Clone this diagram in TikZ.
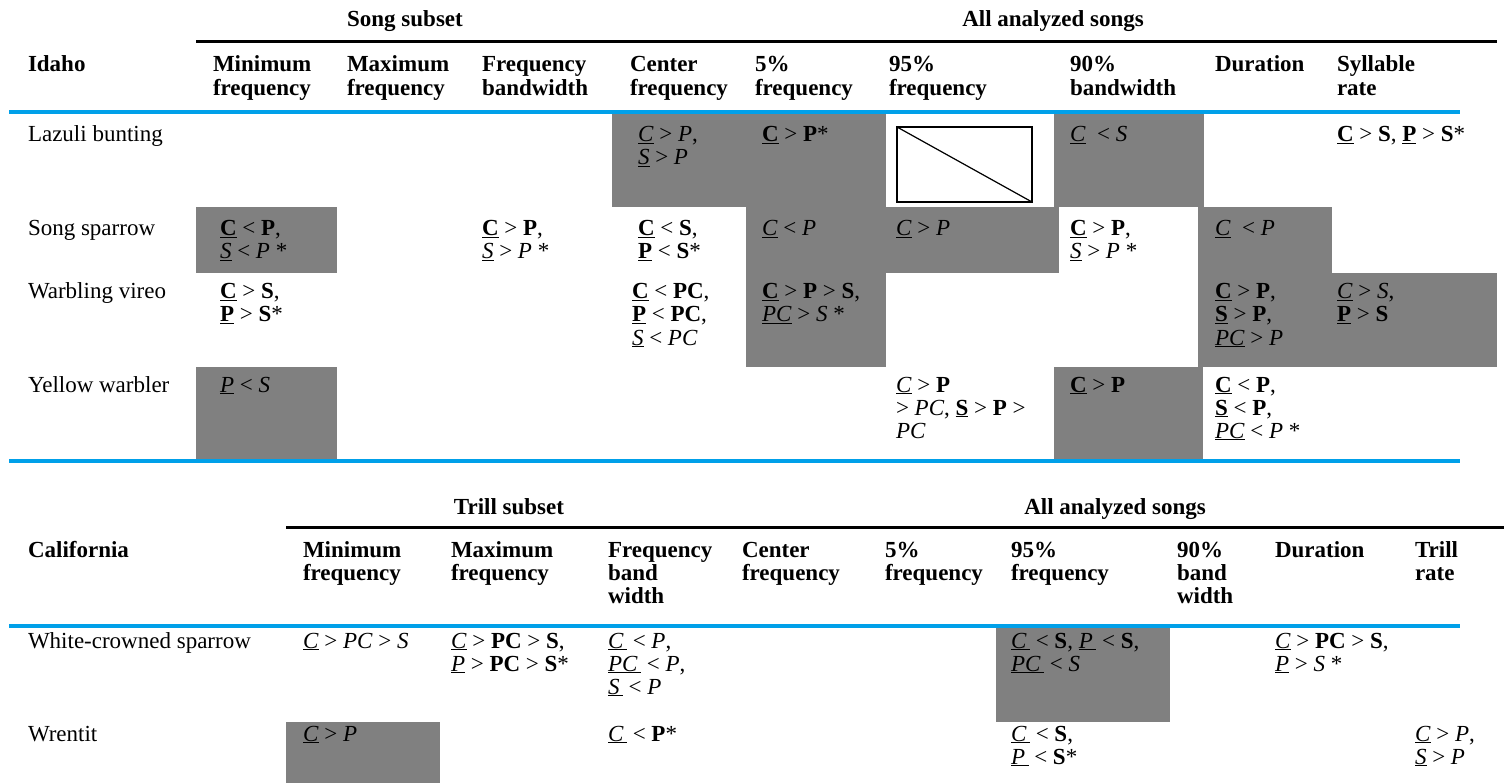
\documentclass[tikz,border=0pt]{standalone}
\usepackage{fontspec}
\setmainfont{Liberation Serif}
\definecolor{rulblue}{RGB}{0,160,233}
\definecolor{cellgray}{RGB}{128,128,128}
\newcommand\U[1]{\underline{#1}}
\newcommand\I[1]{\textit{#1}}
\newcommand\B[1]{\textbf{#1}}
\newcommand\Us{\hspace{.15em}}
\begin{document}
\begin{tikzpicture}[x=1pt,y=-1pt,
  tx/.style={anchor=base west, inner sep=0pt, outer sep=0pt, font=\fontsize{23}{23}\selectfont},
  hd/.style={tx, font=\fontsize{23}{23}\selectfont\bfseries},
  grp/.style={anchor=base, inner sep=0pt, outer sep=0pt, font=\fontsize{23}{23}\selectfont\bfseries},
  graycell/.style={fill=cellgray, draw=none},
  bluerule/.style={draw=rulblue, line width=4pt},
  blackrule/.style={draw=black, line width=3pt},
  boxline/.style={draw=black, line width=1.2pt}]
\useasboundingbox (0,0) rectangle (1504,783);

% ---------- gray cells ----------
\path[graycell] (612,114) rectangle (886,207);
\path[graycell] (1054,114) rectangle (1204,207);
\path[graycell] (196,207) rectangle (337,273);
\path[graycell] (746,207) rectangle (1059,273);
\path[graycell] (1198,207) rectangle (1332,273);
\path[graycell] (746,273) rectangle (886,367);
\path[graycell] (1198,273) rectangle (1497,367);
\path[graycell] (196,367) rectangle (337,461);
\path[graycell] (1054,367) rectangle (1203,461);
\path[graycell] (996,628) rectangle (1170,722);
\path[graycell] (286,722) rectangle (440,783);

% ---------- rules ----------
\coordinate (ta) at (196,42);  \coordinate (tb) at (613,42);  \coordinate (tc) at (1497,42);
\draw[blackrule] (ta) -- (tb); \draw[blackrule] (tb) -- (tc);
\coordinate (ba) at (286,527); \coordinate (bb) at (727,527); \coordinate (bc) at (1504,527);
\draw[blackrule] (ba) -- (bb); \draw[blackrule] (bb) -- (bc);
\coordinate (u1a) at (9,112); \coordinate (u1b) at (1460,112);
\coordinate (u2a) at (9,461); \coordinate (u2b) at (1460,461);
\coordinate (u3a) at (9,626); \coordinate (u3b) at (1460,626);
\draw[bluerule] (u1a) -- (u1b);
\draw[bluerule] (u2a) -- (u2b);
\draw[bluerule] (u3a) -- (u3b);

% ---------- box in 95% cell ----------
\coordinate (boxA) at (897,127); \coordinate (boxB) at (1032,202);
\draw[boxline] (boxA) rectangle (boxB);
\draw[boxline] (boxA) -- (boxB);

% ---------- top table headers ----------
\node[grp] (gSong) at (405,27) {Song subset};
\node[grp] (gAll) at (1053,27) {All analyzed songs};
\node[hd] (hIdaho) at (28,72) {Idaho};
\node[hd] (hMin1) at (213,72) {Minimum};   \node[hd] (hMin2) at (213,96) {frequency};
\node[hd] (hMax1) at (347,72) {Maximum};   \node[hd] (hMax2) at (347,96) {frequency};
\node[hd] (hFB1) at (482,72) {Frequency};  \node[hd] (hFB2) at (482,96) {bandwidth};
\node[hd] (hCF1) at (630,72) {Center};     \node[hd] (hCF2) at (630,96) {frequency};
\node[hd] (hF51) at (755,72) {5\%};        \node[hd] (hF52) at (755,96) {frequency};
\node[hd] (hN51) at (889,72) {95\%};       \node[hd] (hN52) at (889,96) {frequency};
\node[hd] (hN01) at (1070,72) {90\%};      \node[hd] (hN02) at (1070,96) {bandwidth};
\node[hd] (hDur) at (1215,72) {Duration};
\node[hd] (hSy1) at (1337,72) {Syllable};  \node[hd] (hSy2) at (1337,96) {rate};

% ---------- Lazuli bunting ----------
\node[tx] (lzN) at (28,142) {Lazuli bunting};
\node[tx] (lzCF1) at (638,142) {\U{\I{C}} > \I{P},};
\node[tx] (lzCF2) at (638,165) {\U{\I{S}} > \I{P}};
\node[tx] (lzF5) at (762,142) {\U{\B{C}} > \B{P}*};
\node[tx] (lzN0) at (1070,142) {\U{\I{C}}\enspace< \I{S}};
\node[tx] (lzSy) at (1337,142) {\U{\B{C}} > \B{S}, \U{\B{P}} > \B{S}*};

% ---------- Song sparrow ----------
\node[tx] (ssN) at (28,236) {Song sparrow};
\node[tx] (ssMin1) at (220,236) {\U{\B{C}} < \B{P},};
\node[tx] (ssMin2) at (220,259) {\U{\I{S}} < \I{P} *};
\node[tx] (ssFB1) at (482,236) {\U{\B{C}} > \B{P},};
\node[tx] (ssFB2) at (482,259) {\U{\I{S}} > \I{P} *};
\node[tx] (ssCF1) at (638,236) {\U{\B{C}} < \B{S},};
\node[tx] (ssCF2) at (638,259) {\U{\B{P}} < \B{S}*};
\node[tx] (ssF5) at (762,236) {\U{\I{C}} < \I{P}};
\node[tx] (ssN5) at (896,236) {\U{\I{C}} > \I{P}};
\node[tx] (ssN01) at (1070,236) {\U{\B{C}} > \B{P},};
\node[tx] (ssN02) at (1070,259) {\U{\I{S}} > \I{P} *};
\node[tx] (ssDu) at (1215,236) {\U{\I{C}}\enspace< \I{P}};

% ---------- Warbling vireo ----------
\node[tx] (wvN) at (28,299) {Warbling vireo};
\node[tx] (wvMin1) at (220,299) {\U{\B{C}} > \B{S},};
\node[tx] (wvMin2) at (220,322) {\U{\B{P}} > \B{S}*};
\node[tx] (wvCF1) at (632,299) {\U{\B{C}} < \B{PC},};
\node[tx] (wvCF2) at (632,322) {\U{\B{P}} < \B{PC},};
\node[tx] (wvCF3) at (632,345) {\U{\I{S}} < \I{PC}};
\node[tx] (wvF51) at (762,299) {\U{\B{C}} > \B{P} > \B{S},};
\node[tx] (wvF52) at (762,322) {\U{\I{PC}} > \I{S} *};
\node[tx] (wvDu1) at (1215,299) {\U{\B{C}} > \B{P},};
\node[tx] (wvDu2) at (1215,322) {\U{\B{S}} > \B{P},};
\node[tx] (wvDu3) at (1215,345) {\U{\I{PC}} > \I{P}};
\node[tx] (wvSy1) at (1337,299) {\U{\I{C}} > \I{S},};
\node[tx] (wvSy2) at (1337,322) {\U{\B{P}} > \B{S}};

% ---------- Yellow warbler ----------
\node[tx] (ywN) at (28,392) {Yellow warbler};
\node[tx] (ywMin) at (220,392) {\U{\I{P}} < \I{S}};
\node[tx] (ywN51) at (896,392) {\U{\I{C}} > \B{P}};
\node[tx] (ywN52) at (896,415) {> \I{PC}, \U{\B{S}} > \B{P} >};
\node[tx] (ywN53) at (896,438) {\I{PC}};
\node[tx] (ywN0) at (1070,392) {\U{\B{C}} > \B{P}};
\node[tx] (ywDu1) at (1215,392) {\U{\B{C}} < \B{P},};
\node[tx] (ywDu2) at (1215,415) {\U{\B{S}} < \B{P},};
\node[tx] (ywDu3) at (1215,438) {\U{\I{PC}} < \I{P} *};

% ---------- bottom table headers ----------
\node[grp] (gTrill) at (509,514) {Trill subset};
\node[grp] (gAll2) at (1115,514) {All analyzed songs};
\node[hd] (hCal) at (28,557) {California};
\node[hd] (hLMin1) at (303,557) {Minimum};  \node[hd] (hLMin2) at (303,580) {frequency};
\node[hd] (hLMax1) at (451,557) {Maximum};  \node[hd] (hLMax2) at (451,580) {frequency};
\node[hd] (hLFB1) at (608,557) {Frequency}; \node[hd] (hLFB2) at (608,580) {band}; \node[hd] (hLFB3) at (608,603) {width};
\node[hd] (hLCF1) at (742,557) {Center};    \node[hd] (hLCF2) at (742,580) {frequency};
\node[hd] (hLF51) at (885,557) {5\%};       \node[hd] (hLF52) at (885,580) {frequency};
\node[hd] (hLN51) at (1011,557) {95\%};     \node[hd] (hLN52) at (1011,580) {frequency};
\node[hd] (hLN01) at (1177,557) {90\%};     \node[hd] (hLN02) at (1177,580) {band}; \node[hd] (hLN03) at (1177,603) {width};
\node[hd] (hLDu) at (1275,557) {Duration};
\node[hd] (hLTr1) at (1415,557) {Trill};    \node[hd] (hLTr2) at (1415,580) {rate};

% ---------- White-crowned sparrow ----------
\node[tx] (wcN) at (28,648) {White-crowned sparrow};
\node[tx] (wcMin) at (303,648) {\U{\I{C}} > \I{PC} > \I{S}};
\node[tx] (wcMax1) at (451,648) {\U{\I{C}} > \B{PC} > \B{S},};
\node[tx] (wcMax2) at (451,671) {\U{\I{P}} > \B{PC} > \B{S}*};
\node[tx] (wcFB1) at (608,648) {\U{\I{C}\Us} < \I{P},};
\node[tx] (wcFB2) at (608,671) {\U{\I{PC}\Us} < \I{P},};
\node[tx] (wcFB3) at (608,694) {\U{\I{S}\Us} < \I{P}};
\node[tx] (wcN51) at (1011,648) {\U{\I{C}\Us} < \B{S}, \U{\I{P}\Us} < \B{S},};
\node[tx] (wcN52) at (1011,671) {\U{\I{PC}\Us} < \I{S}};
\node[tx] (wcDu1) at (1275,648) {\U{\I{C}} > \B{PC} > \B{S},};
\node[tx] (wcDu2) at (1275,671) {\U{\I{P}} > \I{S} *};

% ---------- Wrentit ----------
\node[tx] (wrN) at (28,741) {Wrentit};
\node[tx] (wrMin) at (303,741) {\U{\I{C}} > \I{P}};
\node[tx] (wrFB) at (608,741) {\U{\I{C}\Us} < \B{P}*};
\node[tx] (wrN51) at (1011,741) {\U{\I{C}\Us} < \B{S},};
\node[tx] (wrN52) at (1011,764) {\U{\I{P}\Us} < \B{S}*};
\node[tx] (wrTr1) at (1415,741) {\U{\I{C}} > \I{P},};
\node[tx] (wrTr2) at (1415,764) {\U{\I{S}} > \I{P}};
\end{tikzpicture}
\end{document}
